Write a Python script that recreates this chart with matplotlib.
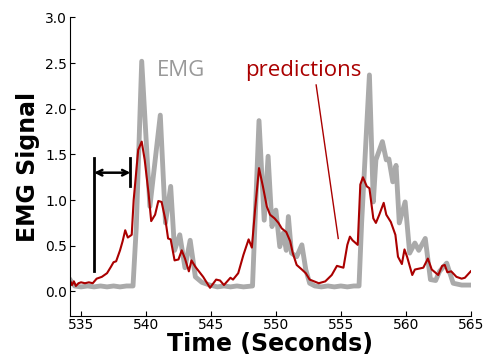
import matplotlib
matplotlib.use("Agg")
import matplotlib.pyplot as plt

# --- data ---
emg_t = [534.15, 534.5, 535.0, 535.5, 536.0, 536.5, 537.0, 537.5, 538.0, 538.5,
         539.0, 539.25, 539.67, 540.3, 541.1, 541.5, 541.9, 542.2, 542.6, 543.0,
         543.4, 543.8, 544.3, 544.9, 545.5, 546.0, 546.5, 547.0, 547.5, 548.2,
         548.35, 548.7, 549.1, 549.4, 549.7, 550.0, 550.3, 550.57, 550.8, 550.96,
         551.2, 551.6, 552.0, 552.3, 552.6, 553.0, 553.5, 554.0, 554.5, 555.0,
         555.5, 556.0, 556.4, 556.6, 557.2, 557.5, 557.7, 558.2, 558.5, 558.7,
         559.0, 559.25, 559.5, 559.95, 560.3, 560.7, 561.0, 561.5, 561.9, 562.3,
         562.6, 563.15, 563.65, 564.3, 565.0]
emg_v = [0.13, 0.06, 0.05, 0.06, 0.05, 0.06, 0.05, 0.06, 0.05, 0.06,
         0.06, 0.70, 2.52, 0.93, 1.93, 0.75, 1.15, 0.45, 0.62, 0.26,
         0.56, 0.16, 0.10, 0.07, 0.05, 0.06, 0.05, 0.06, 0.05, 0.06,
         0.60, 1.87, 0.78, 1.48, 0.71, 0.89, 0.49, 0.64, 0.45, 0.82,
         0.42, 0.38, 0.51, 0.24, 0.09, 0.06, 0.05, 0.06, 0.05, 0.06,
         0.05, 0.06, 0.06, 0.75, 2.37, 0.98, 1.44, 1.64, 1.44, 1.45,
         1.20, 1.38, 0.75, 0.98, 0.42, 0.53, 0.45, 0.58, 0.13, 0.12,
         0.22, 0.31, 0.09, 0.07, 0.07]

pred_t = [534.15, 534.3, 534.45, 534.6, 534.8, 535.0, 535.3, 535.6, 535.9, 536.2,
          536.6, 537.0, 537.3, 537.5, 537.7, 538.0, 538.2, 538.4, 538.6, 538.9,
          539.05, 539.4, 539.67, 539.9, 540.2, 540.4, 540.7, 540.95, 541.2, 541.5,
          541.7, 541.9, 542.2, 542.5, 542.75, 543.0, 543.3, 543.5, 543.8, 544.4,
          544.93, 545.4, 545.7, 546.0, 546.5, 546.7, 547.1, 547.5, 547.9, 548.15,
          548.4, 548.7, 549.0, 549.3, 549.55, 549.9, 550.2, 550.45, 550.8, 551.1,
          551.3, 551.6, 552.0, 552.3, 552.6, 553.3, 553.8, 554.3, 554.7, 555.2,
          555.5, 555.7, 555.9, 556.3, 556.5, 556.7, 557.0, 557.2, 557.5, 557.7,
          557.96, 558.3, 558.5, 558.85, 559.2, 559.4, 559.7, 559.9, 560.1, 560.5,
          560.7, 561.35, 561.7, 562.0, 562.5, 562.8, 563.0, 563.2, 563.5, 563.9,
          564.3, 564.55, 565.0]
pred_v = [0.12, 0.07, 0.11, 0.06, 0.09, 0.10, 0.09, 0.10, 0.09, 0.14,
          0.16, 0.20, 0.27, 0.32, 0.33, 0.45, 0.55, 0.67, 0.59, 0.62,
          1.00, 1.55, 1.64, 1.44, 1.07, 0.77, 0.84, 0.99, 0.98, 0.78,
          0.58, 0.57, 0.34, 0.35, 0.45, 0.36, 0.22, 0.34, 0.27, 0.16,
          0.04, 0.13, 0.12, 0.07, 0.15, 0.13, 0.20, 0.40, 0.57, 0.48,
          0.90, 1.35, 1.15, 0.93, 0.84, 0.80, 0.75, 0.69, 0.65, 0.55,
          0.42, 0.29, 0.24, 0.20, 0.13, 0.09, 0.11, 0.18, 0.28, 0.26,
          0.51, 0.60, 0.56, 0.51, 1.17, 1.25, 1.15, 1.13, 0.80, 0.75,
          0.84, 0.97, 0.84, 0.76, 0.62, 0.38, 0.30, 0.46, 0.38, 0.18,
          0.24, 0.26, 0.36, 0.24, 0.18, 0.28, 0.29, 0.21, 0.22, 0.16,
          0.14, 0.15, 0.22]

xticks = [535, 540, 545, 550, 555, 560, 565]
yticks = [0.0, 0.5, 1.0, 1.5, 2.0, 2.5, 3.0]

fig = plt.figure(figsize=(4.91, 3.62), dpi=100)
ax = fig.add_axes([0.1426, 0.128, 0.8161, 0.824])

ax.plot(emg_t, emg_v, color='#aaaaaa', lw=3.5, solid_joinstyle='round', zorder=1)
ax.plot(pred_t, pred_v, color='#aa0000', lw=1.5, zorder=2)

# lag marker
ax.plot([536.0, 536.0], [0.22, 1.46], color='black', lw=2)
ax.plot([538.8, 538.8], [1.15, 1.46], color='black', lw=2)
ax.annotate('', xy=(536.0, 1.3), xytext=(538.8, 1.3),
            arrowprops=dict(arrowstyle='<->', color='black', lw=1.8,
                            shrinkA=0, shrinkB=0))

ax.text(540.85, 2.42, 'EMG', color='#999999', fontsize=16, family='Open Sans',
        ha='left', va='center')
ax.text(547.6, 2.42, 'predictions', color='#aa0000', fontsize=16, family='Open Sans',
        ha='left', va='center')
ax.plot([553.1, 554.8], [2.26, 0.58], color='#aa0000', lw=1)

ax.set_xlim(534.15, 565)
ax.set_ylim(-0.265, 3.0)
ax.set_xticks(xticks)
ax.set_yticks(yticks)
ax.set_yticklabels([f"{v:.1f}" for v in yticks])
ax.spines['top'].set_visible(False)
ax.spines['right'].set_visible(False)
ax.tick_params(direction='in', labelsize=10)
ax.tick_params(axis='y', pad=2)
ax.tick_params(axis='x', pad=2)

ax.set_xlabel('Time (Seconds)', fontsize=17, fontweight='bold', labelpad=0)
ax.set_ylabel('EMG Signal', fontsize=17, fontweight='bold', labelpad=4)

fig.savefig('out.png', dpi=100)
